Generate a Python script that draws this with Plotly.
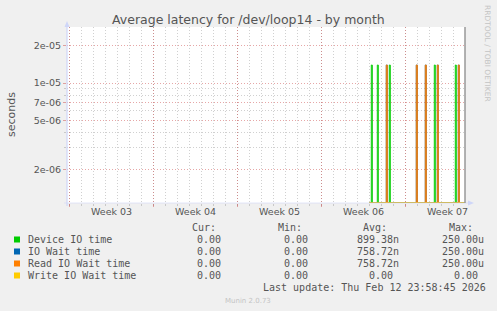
import numpy as np
import pandas as pd
import plotly.graph_objects as go

# ---------------- data ----------------
title_text = "Average latency for /dev/loop14 - by month"
y_label = "seconds"
week_labels = ["Week 03", "Week 04", "Week 05", "Week 06", "Week 07"]
week_starts = ["2026-01-11", "2026-01-18", "2026-01-25", "2026-02-01", "2026-02-08"]
week_label_pos = ["2026-01-14 12:00", "2026-01-21 12:00", "2026-01-28 12:00",
                  "2026-02-04 12:00", "2026-02-11 12:00"]
x_start = "2026-01-10 19:24"
x_end = "2026-02-12 23:24"
data_start = "2026-02-05 00:00"
data_end = "2026-02-13 00:00"

series_names = ["Device IO time", "IO Wait time", "Read IO Wait time", "Write IO Wait time"]
series_colors = ["#00cc00", "#0066b3", "#ff8000", "#ffcc00"]

device_t = ["2026-02-05 03:00", "2026-02-05 15:00", "2026-02-06 15:00",
            "2026-02-10 09:00", "2026-02-12 03:00"]
device_v = [1.40e-5, 1.40e-5, 1.40e-5, 1.40e-5, 1.40e-5]
iowait_t = ["2026-02-06 09:00", "2026-02-08 21:00", "2026-02-09 15:00",
            "2026-02-10 15:00", "2026-02-12 09:00"]
iowait_v = [1.40e-5, 1.40e-5, 1.40e-5, 1.40e-5, 1.40e-5]
read_t = ["2026-02-06 09:00", "2026-02-08 21:00", "2026-02-09 15:00",
          "2026-02-10 15:00", "2026-02-12 09:00"]
read_v = [1.40e-5, 1.40e-5, 1.40e-5, 1.40e-5, 1.40e-5]
write_t = []
write_v = []

y_min, y_max = 1.066e-6, 2.85e-5
y_tick_vals = [2e-6, 5e-6, 7e-6, 1e-5, 2e-5]
y_tick_text = ["2e-06", "5e-06", "7e-06", "1e-05", "2e-05"]
y_minor_vals = [3e-6, 4e-6, 6e-6, 8e-6, 9e-6]

col_headers = ["Cur:", "Min:", "Avg:", "Max:"]
cur_vals = ["0.00", "0.00", "0.00", "0.00"]
min_vals = ["0.00", "0.00", "0.00", "0.00"]
avg_vals = ["899.38n", "758.72n", "758.72n", "0.00"]
max_vals = ["250.00u", "250.00u", "250.00u", "0.00"]
last_update = "Last update: Thu Feb 12 23:58:45 2026"
footer = "Munin 2.0.73"
side_text = "RRDTOOL / TOBI OETIKER"

# ---------------- layout geometry ----------------
W, H = 497, 311
L, R, T, B = 67, 32, 27, 108
PW, PH = W - L - R, H - T - B


def px(x):
    return (x - L) / PW


def py(y):
    return (H - B - y) / PH


TXT = "#555555"
MGRID = "rgba(200,60,60,0.45)"
GRID = "rgba(150,150,150,0.45)"
AXIS = "#cfd6f8"

grid = pd.date_range(data_start, data_end, freq="2h")


def build(ts, vs):
    vals = np.zeros(len(grid))
    for t, v in zip(ts, vs):
        vals[grid.get_indexer([pd.Timestamp(t)], method="nearest")[0]] = v
    return np.maximum(vals, y_min)


fig = go.Figure()
for name, color, ts, vs, w in zip(series_names, series_colors,
                                  [device_t, iowait_t, read_t, write_t],
                                  [device_v, iowait_v, read_v, write_v],
                                  [1.0, 1.0, 1.0, 1.2]):
    fig.add_trace(go.Scatter(x=grid, y=build(ts, vs), mode="lines", name=name,
                             line=dict(color=color, width=w, shape="hv"),
                             showlegend=False, hoverinfo="skip"))

fig.update_layout(
    width=W, height=H,
    margin=dict(l=L, r=R, t=T, b=B, pad=0),
    paper_bgcolor="#f0f0f0", plot_bgcolor="#ffffff",
    font=dict(family="DejaVu Sans", size=9.5, color=TXT),
    xaxis=dict(type="date", range=[x_start, x_end],
               tickvals=week_starts, showticklabels=False,
               ticks="outside", ticklen=3, tickcolor=MGRID, tickwidth=1,
               showgrid=True, gridcolor=MGRID, griddash="1px,2px", gridwidth=1,
               minor=dict(dtick=86400000, tick0="2026-01-11", showgrid=True,
                          gridcolor=GRID, griddash="1px,2px", gridwidth=1,
                          ticks="outside", ticklen=2, tickcolor=GRID),
               showline=False, zeroline=False, fixedrange=True),
    yaxis=dict(type="log", range=[np.log10(y_min), np.log10(y_max)],
               tickvals=y_tick_vals, ticktext=y_tick_text,
               ticks="outside", ticklen=3, tickcolor=MGRID,
               showgrid=True, gridcolor=MGRID, griddash="1px,2px", gridwidth=1,
               minor=dict(tickvals=y_minor_vals, showgrid=True, gridcolor=GRID,
                          griddash="1px,2px", gridwidth=1, ticks="outside",
                          ticklen=2, tickcolor=GRID),
               tickfont=dict(size=9.5, color=TXT),
               showline=False, zeroline=False, fixedrange=True),
)

shapes = []
# axis lines and arrows
shapes.append(dict(type="line", xref="paper", yref="paper", x0=px(67), x1=px(67),
                   y0=py(206), y1=py(24), line=dict(color=AXIS, width=1.2)))
shapes.append(dict(type="line", xref="paper", yref="paper", x0=px(64), x1=px(470),
                   y0=py(203), y1=py(203), line=dict(color=AXIS, width=1.2),
                   opacity=0.55))
shapes.append(dict(type="path", xref="paper", yref="paper",
                   path=f"M {px(64.5)} {py(27)} L {px(67)} {py(21)} L {px(69.5)} {py(27)} Z",
                   fillcolor=AXIS, line=dict(width=0)))
shapes.append(dict(type="path", xref="paper", yref="paper",
                   path=f"M {px(468)} {py(200.5)} L {px(474)} {py(203)} L {px(468)} {py(205.5)} Z",
                   fillcolor=AXIS, line=dict(width=0)))
# right edge marker
shapes.append(dict(type="line", xref="paper", yref="paper", x0=1, x1=1,
                   y0=0, y1=1, line=dict(color="#999999", width=1.5)))

ann = []
ann.append(dict(text=title_text, x=px(248), y=py(20), xref="paper", yref="paper",
                showarrow=False, xanchor="center", yanchor="middle",
                font=dict(size=12.5, color=TXT)))
ann.append(dict(text=y_label, x=px(11), y=py(115), xref="paper", yref="paper",
                showarrow=False, textangle=-90, xanchor="center", yanchor="middle",
                font=dict(size=11, color=TXT)))
ann.append(dict(text=side_text, x=px(488), y=py(53), xref="paper", yref="paper",
                showarrow=False, textangle=90, xanchor="center", yanchor="middle",
                font=dict(size=7.5, color="#c4c4c4")))
for lab, pos in zip(week_labels, week_label_pos):
    ann.append(dict(text=lab, x=pos, y=py(212), xref="x", yref="paper",
                    showarrow=False, xanchor="center", yanchor="middle",
                    font=dict(size=9.5, color=TXT)))

MONO = "DejaVu Sans Mono"
CW = 6.02
row_y = [239.5, 251.5, 263.5, 275.5]
header_y = 227.5
col_end = [219.3 + CW, 305.7 + CW, 396.7, 482.3]  # end of field incl. suffix
header_x = [190.3, 275.7, 361, 446.7]
for hx, h in zip(header_x, col_headers):
    ann.append(dict(text=h, x=px(hx), y=py(header_y), xref="paper", yref="paper",
                    showarrow=False, xanchor="left", yanchor="middle",
                    font=dict(family=MONO, size=10, color=TXT)))


def field_start(end, s):
    n = len(s) if s[-1].isalpha() else len(s) + 1
    return end - n * CW


for i, (name, color) in enumerate(zip(series_names, series_colors)):
    yy = row_y[i]
    shapes.append(dict(type="rect", xref="paper", yref="paper",
                       x0=px(14), x1=px(20), y0=py(yy - 3), y1=py(yy + 3),
                       fillcolor=color, line=dict(width=0)))
    ann.append(dict(text=name, x=px(26), y=py(yy), xref="paper", yref="paper",
                    showarrow=False, xanchor="left", yanchor="middle",
                    font=dict(family=MONO, size=10, color=TXT)))
    for ce, vals in zip(col_end, [cur_vals, min_vals, avg_vals, max_vals]):
        s = vals[i]
        ann.append(dict(text=s, x=px(field_start(ce, s)), y=py(yy), xref="paper",
                        yref="paper", showarrow=False, xanchor="left", yanchor="middle",
                        font=dict(family=MONO, size=10, color=TXT)))

ann.append(dict(text=last_update, x=px(261), y=py(287.5), xref="paper", yref="paper",
                showarrow=False, xanchor="left", yanchor="middle",
                font=dict(family=MONO, size=10, color=TXT)))
ann.append(dict(text=footer, x=px(248), y=py(300.5), xref="paper", yref="paper",
                showarrow=False, xanchor="center", yanchor="middle",
                font=dict(size=7, color="#c4c4c4")))

fig.update_layout(shapes=shapes, annotations=ann)
fig.write_html("out.html")
